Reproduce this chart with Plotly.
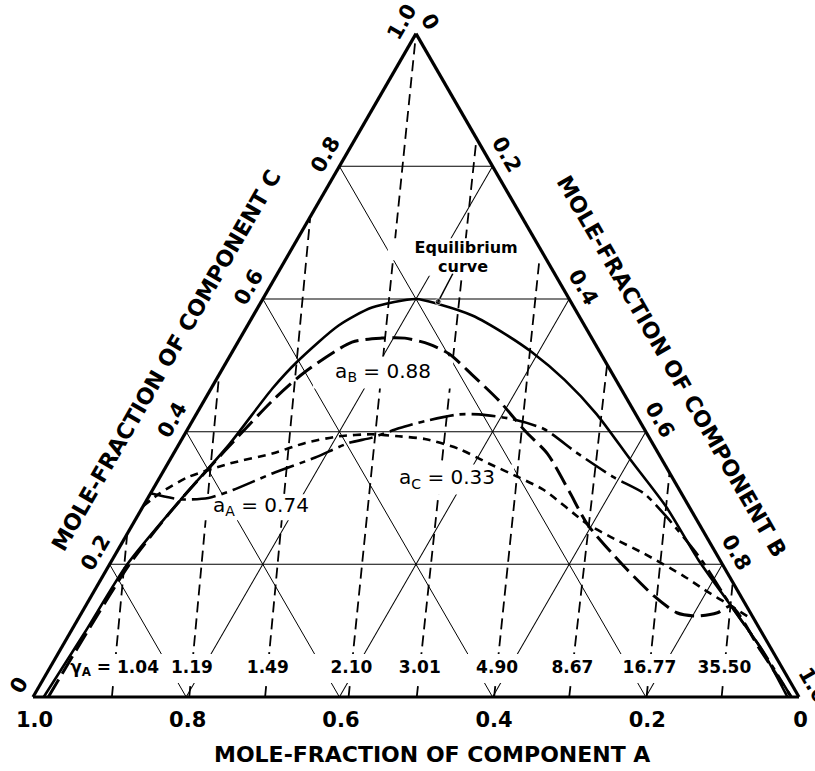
import plotly.graph_objects as go

FONT = "DejaVu Sans"
INK = "black"

# Mole fractions read as (C, B); A is the remainder (ternary sum = 1).
# Plotly ternary mapping: a-axis -> component C (apex), b-axis -> A (left), c-axis -> B (right)

# Equilibrium curve
eq_C = [0.0, 0.098, 0.200, 0.297, 0.382, 0.465, 0.505, 0.560, 0.587, 0.600, 0.592,
        0.575, 0.547, 0.520, 0.478, 0.426, 0.356, 0.286, 0.207, 0.137, 0.073, 0.0]
eq_B = [0.014, 0.019, 0.023, 0.044, 0.066, 0.080, 0.092, 0.119, 0.149, 0.200, 0.234,
        0.286, 0.343, 0.391, 0.455, 0.523, 0.603, 0.684, 0.765, 0.843, 0.914, 0.985]

# Iso-activity curve a_B = 0.88
aB_C = [0.0, 0.200, 0.297, 0.446, 0.490, 0.535, 0.541, 0.541, 0.532, 0.517, 0.486,
        0.446, 0.401, 0.367, 0.310, 0.260, 0.197, 0.152, 0.127, 0.122, 0.127, 0.137,
        0.069, 0.0]
aB_B = [0.020, 0.026, 0.044, 0.089, 0.110, 0.149, 0.185, 0.215, 0.251, 0.285, 0.330,
        0.386, 0.442, 0.488, 0.545, 0.594, 0.673, 0.735, 0.777, 0.806, 0.830, 0.843,
        0.916, 0.990]

# Iso-activity curve a_A = 0.74
aA_C = [0.307, 0.298, 0.300, 0.312, 0.337, 0.361, 0.383, 0.391, 0.405, 0.416, 0.426,
        0.426, 0.419, 0.404, 0.368, 0.331, 0.307, 0.271, 0.207, 0.137, 0.076, 0.0]
aA_B = [0.000, 0.043, 0.079, 0.105, 0.144, 0.188, 0.221, 0.247, 0.275, 0.304, 0.343,
        0.369, 0.416, 0.465, 0.526, 0.593, 0.644, 0.692, 0.769, 0.843, 0.911, 0.990]

# Iso-activity curve a_C = 0.33
aC_C = [0.288, 0.307, 0.331, 0.352, 0.367, 0.383, 0.393, 0.396, 0.393, 0.389, 0.374,
        0.352, 0.331, 0.312, 0.261, 0.241, 0.216, 0.182, 0.162, 0.137, 0.121]
aC_B = [0.000, 0.012, 0.036, 0.081, 0.129, 0.164, 0.203, 0.244, 0.281, 0.317, 0.369,
        0.419, 0.469, 0.511, 0.593, 0.634, 0.690, 0.759, 0.795, 0.843, 0.873]

# Lines of constant activity coefficient of A: start on the A-B side (B value),
# end on the left side, the apex or the right side (C, B of the end point)
gamma_labels = ["1.04", "1.19", "1.49", "2.10", "3.01", "4.90", "8.67", "16.77", "35.50"]
gamma_start_B = [0.103, 0.204, 0.303, 0.412, 0.501, 0.602, 0.700, 0.801, 0.899]
gamma_end_C = [0.246, 0.486, 0.724, 1.000, 0.842, 0.675, 0.501, 0.338, 0.173]
gamma_end_B = [0.000, 0.000, 0.000, 0.000, 0.158, 0.325, 0.499, 0.662, 0.827]
gamma_label_C = 0.043  # height of the label row

tick_vals = [0, 0.2, 0.4, 0.6, 0.8, 1.0]
tick_text = ["0", "0.2", "0.4", "0.6", "0.8", "1.0"]

fig = go.Figure()

# gamma_A lines (dashed)
for b0, ce, be in zip(gamma_start_B, gamma_end_C, gamma_end_B):
    fig.add_trace(go.Scatterternary(
        a=[0.0, ce], c=[b0, be], mode="lines",
        line=dict(color=INK, width=1.8, dash="11px,6px"),
        hoverinfo="skip", showlegend=False))

# label positions along each gamma line
g_lab_C, g_lab_B = [], []
for b0, ce, be in zip(gamma_start_B, gamma_end_C, gamma_end_B):
    s = gamma_label_C / ce
    g_lab_C.append(gamma_label_C)
    g_lab_B.append(b0 + s * (be - b0))
g_text = ["γ<sub>A</sub> = " + gamma_labels[0]] + gamma_labels[1:]
g_pad = [84, 50, 50, 54, 52, 58, 54, 64, 68]

# curve labels
lab_text = ["<b>Equilibrium</b>", "<b>curve</b>", "a<sub>B</sub> = 0.88",
            "a<sub>C</sub> = 0.33", "a<sub>A</sub> = 0.74"]
lab_C = [0.675, 0.647, 0.489, 0.328, 0.286]
lab_B = [0.228, 0.238, 0.2125, 0.3765, 0.1546]
lab_pad = [112, 60, 100, 96, 98]
lab_h = [22, 16, 32, 30, 26]

# white backgrounds behind the labels (they interrupt grid and dashed lines)
for cc, bb, w, h in zip(g_lab_C + lab_C, g_lab_B + lab_B,
                        g_pad + lab_pad, [29] * len(g_pad) + lab_h):
    fig.add_trace(go.Scatterternary(
        a=[cc], c=[bb], mode="markers",
        marker=dict(symbol="line-ew", size=w, color="white",
                    line=dict(color="white", width=h)),
        hoverinfo="skip", showlegend=False))

curve_style = [
    (eq_C, eq_B, dict(color=INK, width=2.6, dash="solid")),
    (aB_C, aB_B, dict(color=INK, width=3.0, dash="20px,7px")),
    (aA_C, aA_B, dict(color=INK, width=2.6, dash="24px,6px,6px,6px")),
    (aC_C, aC_B, dict(color=INK, width=2.6, dash="8px,6px")),
]
for cc, bb, ln in curve_style:
    fig.add_trace(go.Scatterternary(
        a=cc, c=bb, mode="lines",
        line=dict(shape="spline", smoothing=0.7, **ln),
        hoverinfo="skip", showlegend=False))

# leader to the equilibrium curve
lead_C = [0.638, 0.596]
lead_B = [0.229, 0.231]
fig.add_trace(go.Scatterternary(
    a=lead_C, c=lead_B, mode="lines+markers",
    line=dict(color=INK, width=1.5),
    marker=dict(size=[0, 6], color=INK),
    hoverinfo="skip", showlegend=False))

fig.add_trace(go.Scatterternary(
    a=g_lab_C, c=g_lab_B, mode="text", text=g_text,
    textfont=dict(family=FONT, size=17, color=INK, weight="bold"),
    hoverinfo="skip", showlegend=False))
fig.add_trace(go.Scatterternary(
    a=lab_C, c=lab_B, mode="text", text=lab_text,
    textfont=dict(family=FONT, size=[16, 16, 20, 20, 20], color=INK),
    hoverinfo="skip", showlegend=False))


def axis(angle, ticklen):
    return dict(
        tickmode="array", tickvals=tick_vals, ticktext=tick_text,
        tickangle=angle, ticks="outside", ticklen=ticklen,
        tickcolor="rgba(0,0,0,0)",
        tickfont=dict(family=FONT, size=21, color=INK, weight="bold"),
        showgrid=True, gridcolor=INK, gridwidth=1.3,
        showline=True, linecolor=INK, linewidth=3.2,
        title=dict(text=""), min=0,
    )


W, H = 815, 771
left, right, bottom = 33, 799, 697
tri_h = (right - left) * 3 ** 0.5 / 2

fig.update_layout(
    width=W, height=H,
    margin=dict(l=0, r=0, t=0, b=0),
    paper_bgcolor="white",
    ternary=dict(
        sum=1,
        bgcolor="white",
        domain=dict(x=[left / W, right / W],
                    y=[(H - bottom) / H, (H - bottom + tri_h) / H]),
        aaxis=axis(-60, 0),
        baxis=axis(0, 3),
        caxis=axis(60, 0),
    ),
    showlegend=False,
)

title_font = dict(family=FONT, size=22, color=INK, weight="bold")
for txt, cx, cy, ang in [("MOLE-FRACTION OF COMPONENT A", 432, 754, 0),
                         ("MOLE-FRACTION OF COMPONENT C", 166, 360, -60),
                         ("MOLE-FRACTION OF COMPONENT B", 672, 366, 60)]:
    fig.add_annotation(text=txt, x=cx / W, y=1 - cy / H, xref="paper", yref="paper",
                       xanchor="center", yanchor="middle", showarrow=False,
                       font=title_font, textangle=ang)

fig.write_html("out.html")
